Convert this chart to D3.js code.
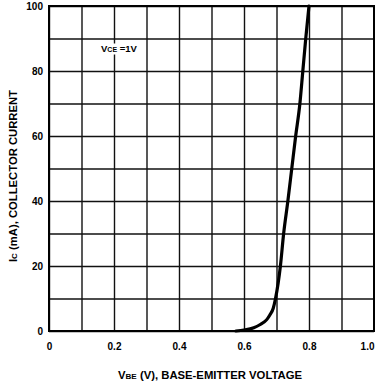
<!DOCTYPE html>
<html>
<head>
<meta charset="utf-8">
<script src="https://cdn.jsdelivr.net/npm/d3@7"></script>
<style>
  body { margin: 0; background: #fff; }
  svg { display: block; }
  text { font-family: "Liberation Sans", Arial, sans-serif; font-weight: 700; fill: #000; }
</style>
</head>
<body>
<svg id="chart" width="375" height="381"></svg>
<script>
// Vbe (V) vs Ic (mA) at Vce = 1V
const vbe = [0.575, 0.60, 0.63, 0.65, 0.67, 0.68, 0.69, 0.697, 0.712, 0.722, 0.735, 0.747, 0.759, 0.772, 0.781, 0.79, 0.80];
const ic = [0, 0.3, 1, 2, 3.5, 5, 7, 10, 20, 30, 40, 50, 60, 70, 80, 90, 100];

const xTicks = [0, 0.2, 0.4, 0.6, 0.8, 1.0];
const xTickLabels = ['0', '0.2', '0.4', '0.6', '0.8', '1.0'];
const yTicks = [0, 20, 40, 60, 80, 100];
const xGrid = d3.range(0, 11).map(i => i / 10);
const yGrid = d3.range(0, 11).map(i => i * 10);

const svg = d3.select('#chart');
const margin = {top: 6, right: 1, bottom: 50, left: 49};
const width = 375 - margin.left - margin.right;
const height = 381 - margin.top - margin.bottom;

const x = d3.scaleLinear().domain([0, 1]).range([0, width]);
const y = d3.scaleLinear().domain([0, 100]).range([height, 0]);

const g = svg.append('g').attr('transform', `translate(${margin.left},${margin.top})`);

// grid
g.append('g')
  .attr('transform', `translate(0,${height})`)
  .call(d3.axisBottom(x).tickValues(xGrid).tickSize(-height).tickFormat(''))
  .call(s => s.select('.domain').remove())
  .call(s => s.selectAll('line').attr('stroke', '#111').attr('stroke-width', 1.4));

g.append('g')
  .call(d3.axisLeft(y).tickValues(yGrid).tickSize(-width).tickFormat(''))
  .call(s => s.select('.domain').remove())
  .call(s => s.selectAll('line').attr('stroke', '#111').attr('stroke-width', 1.4));

// frame
g.append('rect')
  .attr('width', width).attr('height', height)
  .attr('fill', 'none').attr('stroke', '#000').attr('stroke-width', 2);

// tick labels
g.append('g')
  .attr('transform', `translate(0,${height})`)
  .call(d3.axisBottom(x).tickValues(xTicks).tickSize(0).tickPadding(12)
    .tickFormat((d, i) => xTickLabels[i]))
  .call(s => s.select('.domain').remove())
  .call(s => s.selectAll('text').style('font-size', '10px').attr('font-family', null)
    .attr('text-anchor', (d, i) => i === xTicks.length - 1 ? 'end' : 'middle'));

g.append('g')
  .call(d3.axisLeft(y).tickValues(yTicks).tickSize(0).tickPadding(6))
  .call(s => s.select('.domain').remove())
  .call(s => s.selectAll('text').style('font-size', '10px').attr('font-family', null));

// curve
const pts = vbe.map((v, i) => [v, ic[i]]);
g.append('path')
  .datum(pts)
  .attr('fill', 'none')
  .attr('stroke', '#000')
  .attr('stroke-width', 3.2)
  .attr('stroke-linecap', 'round')
  .attr('d', d3.line().x(d => x(d[0])).y(d => y(d[1])).curve(d3.curveMonotoneX));

// annotation with white box
const ann = g.append('g').attr('transform', `translate(${x(0.16)},${y(86)})`);
ann.append('rect').attr('x', -2).attr('y', -8).attr('width', 36).attr('height', 11).attr('fill', '#fff');
const at = ann.append('text').style('font-size', '9.5px');
at.append('tspan').text('V');
at.append('tspan').text('CE').style('font-size', '7px');
at.append('tspan').text(' =1V');

// axis titles
const xt = svg.append('text')
  .attr('x', 118)
  .attr('y', 379)
  .attr('textLength', 184)
  .attr('lengthAdjust', 'spacingAndGlyphs')
  .style('font-size', '10.5px');
xt.append('tspan').text('V');
xt.append('tspan').text('BE').style('font-size', '7.5px');
xt.append('tspan').text(' (V), BASE-EMITTER VOLTAGE');

const yt = svg.append('text')
  .attr('transform', `translate(17,262) rotate(-90)`)
  .attr('textLength', 172)
  .attr('lengthAdjust', 'spacingAndGlyphs')
  .style('font-size', '10.5px');
yt.append('tspan').text('I');
yt.append('tspan').text('C').style('font-size', '7.5px');
yt.append('tspan').text(' (mA), COLLECTOR CURRENT');
</script>
</body>
</html>
